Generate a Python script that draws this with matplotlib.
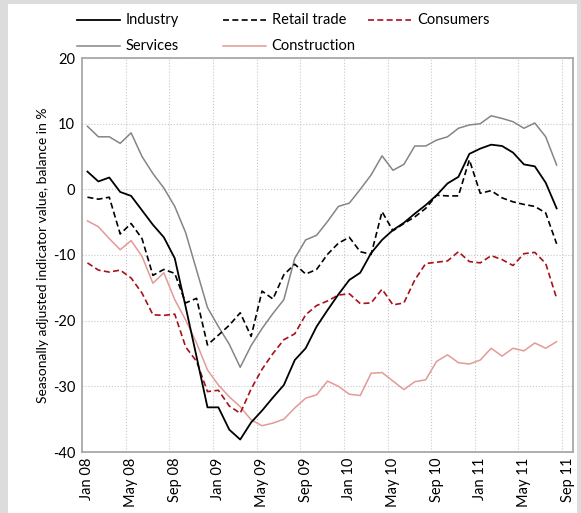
import numpy as np
import matplotlib.pyplot as plt
from matplotlib.lines import Line2D
from matplotlib.patches import Rectangle

plt.rcParams['font.family'] = ['Lato', 'DejaVu Sans']
plt.rcParams['axes.unicode_minus'] = False

# Monthly values Jan 08 .. Aug 11 (balance in %)
tick_labels = ['Jan 08', 'May 08', 'Sep 08', 'Jan 09', 'May 09', 'Sep 09',
               'Jan 10', 'May 10', 'Sep 10', 'Jan 11', 'May 11', 'Sep 11']

industry = [2.7, 1.2, 1.8, -0.4, -1.0, -3.2, -5.4, -7.3, -10.5, -17.9, -25.5, -33.2,
            -33.2, -36.6, -38.1, -35.5, -33.7, -31.7, -29.8, -26.0, -24.2, -20.9, -18.4, -16.0,
            -13.8, -12.7, -9.7, -7.7, -6.2, -5.1, -3.7, -2.4, -0.9, 0.9, 1.9, 5.4,
            6.2, 6.8, 6.6, 5.6, 3.8, 3.5, 1.0, -2.9]
retail = [-1.2, -1.5, -1.2, -6.8, -5.2, -7.5, -13.1, -12.2, -12.8, -17.3, -16.6, -23.7,
          -22.2, -20.7, -18.8, -22.4, -15.5, -16.7, -13.0, -11.4, -12.9, -12.2, -9.9, -8.2,
          -7.3, -9.5, -9.9, -3.4, -6.3, -5.2, -4.2, -2.9, -0.9, -1.0, -1.0, 4.5,
          -0.6, -0.2, -1.3, -1.9, -2.3, -2.6, -3.6, -8.3]
consumers = [-11.2, -12.3, -12.6, -12.3, -13.5, -15.8, -19.1, -19.2, -19.0, -24.0, -26.2, -30.8,
             -30.6, -33.0, -34.1, -30.4, -27.4, -25.0, -22.9, -22.0, -19.1, -17.7, -17.0, -16.1,
             -15.9, -17.4, -17.3, -15.2, -17.6, -17.3, -13.8, -11.3, -11.1, -10.9, -9.5, -11.0,
             -11.2, -10.1, -10.7, -11.6, -9.8, -9.6, -11.3, -16.6]
services = [9.6, 8.0, 8.0, 7.0, 8.6, 5.0, 2.4, 0.2, -2.6, -6.6, -12.3, -18.0,
            -20.9, -23.6, -27.1, -23.8, -21.2, -18.9, -16.8, -10.5, -7.7, -7.0, -4.9, -2.6,
            -2.1, 0.0, 2.2, 5.1, 2.9, 3.8, 6.6, 6.6, 7.5, 8.0, 9.3, 9.8,
            10.0, 11.2, 10.8, 10.3, 9.3, 10.1, 8.0, 3.7]
construction = [-4.8, -5.7, -7.5, -9.2, -7.8, -10.2, -14.3, -12.7, -16.8, -19.9, -23.4, -27.5,
                -29.8, -31.6, -33.1, -35.1, -36.0, -35.6, -35.0, -33.3, -31.8, -31.3, -29.2, -30.0,
                -31.2, -31.4, -28.0, -27.9, -29.2, -30.5, -29.3, -29.0, -26.2, -25.2, -26.4, -26.6,
                -26.0, -24.2, -25.4, -24.2, -24.6, -23.4, -24.2, -23.2]

dash = (0, (3.6, 2.0))
styles = {
    'Industry': dict(color='black', lw=1.3),
    'Retail trade': dict(color='black', lw=1.2, linestyle=dash),
    'Consumers': dict(color='#a8101c', lw=1.2, linestyle=dash),
    'Services': dict(color='#858585', lw=1.1),
    'Construction': dict(color='#e39a96', lw=1.1),
}
series = [('Construction', construction), ('Services', services),
          ('Consumers', consumers), ('Retail trade', retail), ('Industry', industry)]

W, H = 581, 513
fig = plt.figure(figsize=(W / 100, H / 100), dpi=100, facecolor='#dcdcdc')
fig.patches.append(Rectangle((8 / W, 0), (577 - 8) / W, (H - 4) / H,
                             transform=fig.transFigure, facecolor='white',
                             edgecolor='none', zorder=-1))

ax = fig.add_axes([82 / W, (H - 452) / H, 491 / W, 394 / H])
x = np.arange(len(industry))
for name, vals in series:
    ax.plot(x, vals, **styles[name])

ax.set_xlim(-0.5, 44.5)
ax.set_ylim(-40, 20)
ax.set_yticks(range(-40, 21, 10))
ax.set_xticks(np.arange(0, 45, 4))
ax.set_xticklabels(tick_labels, rotation=90)
ax.set_xticks(np.arange(3.5, 44, 4), minor=True)
ax.tick_params(which='both', length=0, labelsize=10.5, colors='black')
ax.tick_params(axis='x', pad=4)
ax.tick_params(axis='y', pad=5)
ax.grid(which='minor', axis='x', color='#c8c8c8', linestyle=':', lw=0.8)
ax.grid(which='major', axis='y', color='#c8c8c8', linestyle=':', lw=0.8)
for s in ax.spines.values():
    s.set_color('#a8a8a8')
    s.set_linewidth(1.3)
ax.set_ylabel('Seasonally adjusted indicator value, balance in %', fontsize=10)
ax.yaxis.set_label_coords(-0.068, 0.5)

# legend laid out in fixed columns above the plot
legend_items = [('Industry', 0, 0), ('Retail trade', 1, 0), ('Consumers', 2, 0),
                ('Services', 0, 1), ('Construction', 1, 1)]
for name, col, row in legend_items:
    x0 = 77 + col * 145.5
    y0 = 1 - (20 + row * 26) / H
    fig.add_artist(Line2D([x0 / W, (x0 + 43) / W], [y0, y0],
                          transform=fig.transFigure, **styles[name]))
    fig.text((x0 + 49) / W, y0, name, fontsize=10.5, va='center', ha='left')

fig.savefig('out.png', dpi=100, facecolor=fig.get_facecolor())
